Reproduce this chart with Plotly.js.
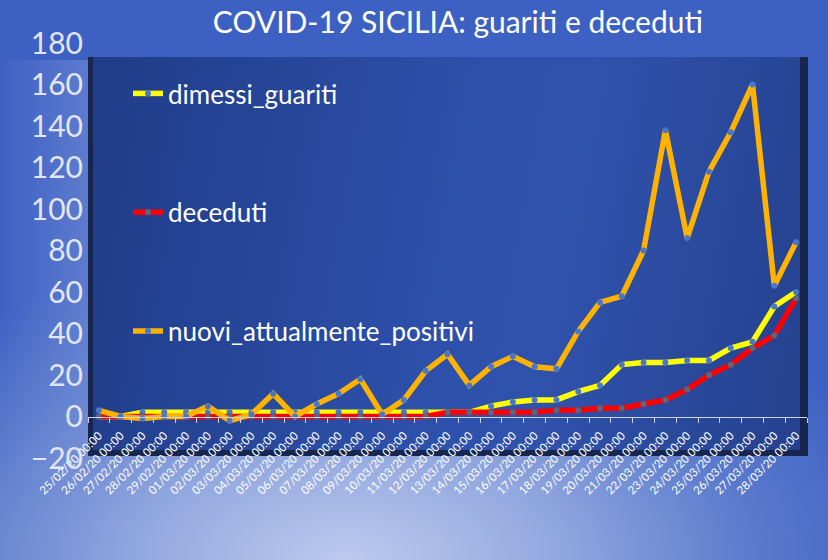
<!DOCTYPE html>
<html>
<head>
<meta charset="utf-8">
<script src="https://cdn.plot.ly/plotly-3.0.1.min.js"></script>
<style>
html,body{margin:0;padding:0;width:828px;height:560px;overflow:hidden;}
body{background:radial-gradient(ellipse 70% 55% at 42% 100%, #bccaee 0%, #94a9e0 35%, #5a7acc 70%, #3d61c3 100%);}
#side{position:absolute;left:0;top:60px;width:88px;height:420px;background:linear-gradient(90deg,rgba(120,145,215,0) 0%,rgba(120,145,215,0.55) 100%);}
#frame{position:absolute;left:88px;top:57px;width:720px;height:399px;background:#17264f;}
#inner{position:absolute;left:93px;top:57px;width:707px;height:393px;background:linear-gradient(100deg,#203c88 0%,#2d50aa 50%,#2f52ac 65%,#25418e 100%);}
#chart{position:absolute;left:0;top:0;width:828px;height:560px;}
</style>
</head>
<body>
<div id="side"></div>
<div id="frame"></div>
<div id="inner"></div>
<div id="chart"></div>
<script>
const dates = ["25/02/20 00:00","26/02/20 00:00","27/02/20 00:00","28/02/20 00:00","29/02/20 00:00",
"01/03/20 00:00","02/03/20 00:00","03/03/20 00:00","04/03/20 00:00","05/03/20 00:00","06/03/20 00:00",
"07/03/20 00:00","08/03/20 00:00","09/03/20 00:00","10/03/20 00:00","11/03/20 00:00","12/03/20 00:00",
"13/03/20 00:00","14/03/20 00:00","15/03/20 00:00","16/03/20 00:00","17/03/20 00:00","18/03/20 00:00",
"19/03/20 00:00","20/03/20 00:00","21/03/20 00:00","22/03/20 00:00","23/03/20 00:00","24/03/20 00:00",
"25/03/20 00:00","26/03/20 00:00","27/03/20 00:00","28/03/20 00:00"];
const dimessi_guariti = [0,0,2,2,2,2,2,2,2,2,2,2,2,2,2,2,2,2,5,7,8,8,12,15,25,26,26,27,27,33,36,53,60];
const deceduti = [0,0,0,0,0,0,0,0,0,0,0,0,0,0,0,0,2,2,2,2,2,3,3,4,4,6,8,13,20,25,33,39,57];
const nuovi_attualmente_positivi = [3,0,-1,0,0,5,-2,1,11,0,6,11,18,1,8,22,30,15,24,29,24,23,41,55,58,80,138,86,118,137,160,63,84];
const yTicks = [-20,0,20,40,60,80,100,120,140,160,180];

const FONT = "Lato, 'Open Sans', sans-serif";
function series(name, y, color, mcolor, grp){
  return {type:'scatter', mode:'lines+markers', name:name, x:dates, y:y, legendgroup:grp,
    line:{color:color, width:5.5}, marker:{color:mcolor, size:6}};
}
const traces = [
  series('dimessi_guariti', dimessi_guariti, '#ffff00', '#4a78c8', 'g1'),
  series('deceduti', deceduti, '#ff0000', '#5c6680', 'g2'),
  series('nuovi_attualmente_positivi', nuovi_attualmente_positivi, '#ffb300', '#4a78c8', 'g3')
];
const mt = 43, mb = 102;
const ph = 560 - mt - mb;
const zeroPos = (20/200);
const layout = {
  width:828, height:560,
  margin:{l:88, r:21, t:mt, b:mb},
  paper_bgcolor:'rgba(0,0,0,0)', plot_bgcolor:'rgba(0,0,0,0)',
  title:{text:'COVID-19 SICILIA: guariti e deceduti', font:{family:FONT, size:30, color:'#ffffff'},
    x:0.553, xanchor:'center', y:1-22/560, yanchor:'middle', yref:'container'},
  showlegend:true,
  legend:{x:(128-88)/719, xanchor:'left', y:1-(70-mt)/ph, yanchor:'top', bgcolor:'rgba(0,0,0,0)',
    font:{family:FONT, size:26, color:'#ffffff'}, tracegroupgap:82, itemwidth:30},
  xaxis:{type:'category', range:[-0.5,32.5], anchor:'free', position:zeroPos,
    showline:true, linecolor:'#cdd3e6', linewidth:1, ticks:'outside', ticklen:5, tickcolor:'#cdd3e6',
    tickson:'boundaries', tickangle:-45, showgrid:false, zeroline:false, ticklabelstandoff:7,
    tickfont:{family:FONT, size:11.5, color:'#ffffff'}},
  yaxis:{range:[-20,180], tickvals:yTicks, showgrid:false, zeroline:false, showline:false, ticks:'',
    ticklabelstandoff:4, tickfont:{family:FONT, size:30, color:'#e2e6f2'}}
};
Plotly.newPlot('chart', traces, layout, {displayModeBar:false, staticPlot:true});
</script>
</body>
</html>
